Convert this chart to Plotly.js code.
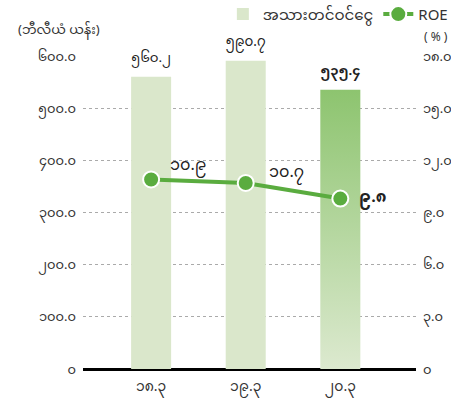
<!DOCTYPE html>
<html><head><meta charset="utf-8">
<script src="https://cdn.plot.ly/plotly-3.0.1.min.js"></script>
<style>html,body{margin:0;padding:0;background:#fff}#chart{width:451px;height:402px}</style>
</head><body><div id="chart"></div>
<script>
const categories = ['၁၈.၃','၁၉.၃','၂၀.၃'];
const netIncome = [560.2, 590.7, 535.4];
const roe = [10.9, 10.7, 9.8];
const leftTicks = [0, 100, 200, 300, 400, 500, 600];
const rightTicks = [0, 3, 6, 9, 12, 15, 18];
const seriesNames = ['အသားတင်ဝင်ငွေ', 'ROE'];
const leftTitle = '(ဘီလီယံ ယန်း)';
const rightTitle = '( % )';

const MY = '၀၁၂၃၄၅၆၇၈၉';
function toMy(v, dec) {
  const s = dec ? v.toFixed(dec) : String(v);
  return s.replace(/[0-9]/g, d => MY[+d]);
}
const FONT = '"Noto Sans Myanmar", Padauk, "Myanmar Text", "Noto Sans", sans-serif';
const xs = categories.map((c, i) => i);

const barTrace = {
  type: 'bar', x: xs, y: netIncome, name: seriesNames[0], yaxis: 'y',
  width: 0.423,
  marker: {color: ['#dae7cb', '#dae7cb', '#a9d28f']},
  text: netIncome.map((v, i) => i === 2 ? '<b>' + toMy(v, 1) + '</b>' : toMy(v, 1)),
  textposition: 'outside', cliponaxis: false,
  textfont: {family: FONT, size: 17, color: '#222'},
  hoverinfo: 'none'
};
const lineTrace = {
  type: 'scatter', mode: 'lines+markers', x: xs, y: roe, name: seriesNames[1], yaxis: 'y2',
  line: {color: '#5aac3f', width: 4},
  marker: {color: '#5aac3f', size: 16, line: {color: '#fff', width: 2}},
  cliponaxis: false, hoverinfo: 'none'
};

const roeShift = [[37, 13], [41, 9], [32, 0]];
const roeNotes = roe.map((v, i) => ({
  x: xs[i], y: v, xref: 'x', yref: 'y2', showarrow: false,
  xanchor: 'center', yanchor: 'middle',
  xshift: roeShift[i][0], yshift: roeShift[i][1],
  text: i === 2 ? '<b>' + toMy(v, 1) + '</b>' : toMy(v, 1),
  font: {family: FONT, size: 16, color: '#222'}
}));

const layout = {
  width: 451, height: 402,
  margin: {l: 83, r: 35, t: 56, b: 33, autoexpand: false},
  paper_bgcolor: '#fff', plot_bgcolor: '#fff',
  font: {family: FONT, color: '#333', size: 13},
  showlegend: true,
  legend: {orientation: 'h', x: 0.42, xanchor: 'left', y: 1.133, yanchor: 'middle',
           font: {family: FONT, size: 15, color: '#333'}, traceorder: 'normal'},
  xaxis: {
    range: [-0.72, 2.80], tickvals: xs, ticktext: categories,
    showgrid: false, zeroline: false, showline: false, ticks: '',
    ticklabelstandoff: 7,
    tickfont: {family: FONT, size: 14, color: '#333'}, fixedrange: true
  },
  yaxis: {
    range: [0, 600], tickvals: leftTicks,
    ticktext: leftTicks.map(v => v === 0 ? toMy(0) : toMy(v, 1)),
    showgrid: true, gridcolor: '#aaa', griddash: 'dot', gridwidth: 1,
    zeroline: true, zerolinecolor: '#000', zerolinewidth: 3,
    ticks: '', ticklabelstandoff: 6,
    tickfont: {family: FONT, size: 13, color: '#333'}, fixedrange: true
  },
  yaxis2: {
    range: [0, 18], overlaying: 'y', side: 'right', tickvals: rightTicks,
    ticktext: rightTicks.map(v => v === 0 ? toMy(0) : toMy(v, 1)),
    showgrid: false, zeroline: false, ticks: '', ticklabelstandoff: 6,
    tickfont: {family: FONT, size: 13, color: '#333'}, fixedrange: true
  },
  annotations: [
    {xref: 'paper', yref: 'paper', x: -0.072, y: 1.08, xanchor: 'center', yanchor: 'middle',
     text: leftTitle, showarrow: false, font: {family: FONT, size: 13, color: '#333'}},
    {xref: 'paper', yref: 'paper', x: 1.06, y: 1.057, xanchor: 'center', yanchor: 'middle',
     text: rightTitle, showarrow: false, font: {family: FONT, size: 12, color: '#333'}}
  ].concat(roeNotes)
};

Plotly.newPlot('chart', [barTrace, lineTrace], layout, {displayModeBar: false, staticPlot: true}).then(gd => {
  const svg = gd.querySelector('svg.main-svg');
  const ns = 'http://www.w3.org/2000/svg';
  let defs = svg.querySelector('defs');
  if (!defs) { defs = document.createElementNS(ns, 'defs'); svg.insertBefore(defs, svg.firstChild); }
  const g = document.createElementNS(ns, 'linearGradient');
  g.setAttribute('id', 'barGrad'); g.setAttribute('x1', '0'); g.setAttribute('y1', '0');
  g.setAttribute('x2', '0'); g.setAttribute('y2', '1');
  [['0', '#8dc46f'], ['1', '#dce9cf']].forEach(([o, c]) => {
    const s = document.createElementNS(ns, 'stop');
    s.setAttribute('offset', o); s.setAttribute('stop-color', c); g.appendChild(s);
  });
  defs.appendChild(g);
  const paths = gd.querySelectorAll('.barlayer .point path');
  if (paths[2]) paths[2].style.fill = 'url(#barGrad)';
});
</script></body></html>
